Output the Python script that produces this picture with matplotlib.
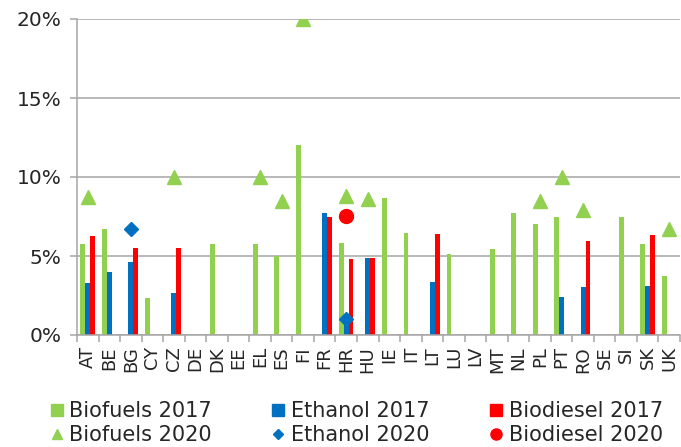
import numpy as np
import matplotlib
matplotlib.use("Agg")
import matplotlib.pyplot as plt
from matplotlib.lines import Line2D
from matplotlib.ticker import PercentFormatter

nan = np.nan

countries = ["AT", "BE", "BG", "CY", "CZ", "DE", "DK", "EE", "EL", "ES",
             "FI", "FR", "HR", "HU", "IE", "IT", "LT", "LU", "LV", "MT",
             "NL", "PL", "PT", "RO", "SE", "SI", "SK", "UK"]

# shares in %
biofuels_2017 = [5.76, 6.73, nan, 2.36, nan, nan, 5.76, nan, 5.76, 5.0,
                 12.0, nan, 5.84, nan, 8.67, 6.47, nan, 5.13, nan, 5.42,
                 7.70, 7.04, 7.45, nan, nan, 7.45, 5.76, 3.73]
ethanol_2017 = [3.31, 3.97, 4.62, nan, 2.68, nan, nan, nan, nan, nan,
                nan, 7.72, 0.9, 4.87, nan, nan, 3.33, nan, nan, nan,
                nan, nan, 2.43, 3.02, nan, nan, 3.10, nan]
biodiesel_2017 = [6.25, nan, 5.53, nan, 5.53, nan, nan, nan, nan, nan,
                  nan, 7.45, 4.79, 4.87, nan, nan, 6.41, nan, nan, nan,
                  nan, nan, nan, 5.93, nan, nan, 6.33, nan]
biofuels_2020 = [8.73, nan, nan, nan, 10.0, nan, nan, nan, 10.0, 8.5,
                 20.0, nan, 8.82, 8.63, nan, nan, nan, nan, nan, nan,
                 nan, 8.5, 10.0, 7.91, nan, nan, nan, 6.69]
ethanol_2020 = [nan, nan, 6.71, nan, nan, nan, nan, nan, nan, nan,
                nan, nan, 0.99, nan, nan, nan, nan, nan, nan, nan,
                nan, nan, nan, nan, nan, nan, nan, nan]
biodiesel_2020 = [nan, nan, nan, nan, nan, nan, nan, nan, nan, nan,
                  nan, nan, 7.53, nan, nan, nan, nan, nan, nan, nan,
                  nan, nan, nan, nan, nan, nan, nan, nan]

GREEN = "#92D050"
BLUE = "#0070C0"
RED = "#FF0000"
GRID = "#A6A6A6"
TEXT = "#262626"

plt.rcParams["font.family"] = ["DejaVu Sans"]

fig = plt.figure(figsize=(6.81, 4.47), dpi=100)
ax = fig.add_axes([77 / 681, 1 - 335 / 447, 603 / 681, 316 / 447])

x = np.arange(len(countries))
w = 0.225
ax.bar(x - w, biofuels_2017, w, color=GREEN, zorder=2)
ax.bar(x, ethanol_2017, w, color=BLUE, zorder=2)
ax.bar(x + w, biodiesel_2017, w, color=RED, zorder=2)

ax.plot(x, biofuels_2020, ls="none", marker="^", ms=10, color=GREEN, zorder=3)
ax.plot(x, ethanol_2020, ls="none", marker="D", ms=7.5, color=BLUE, zorder=3)
ax.plot(x, biodiesel_2020, ls="none", marker="o", ms=10, color=RED, zorder=3)

ax.set_xlim(-0.5, len(countries) - 0.5)
ax.set_ylim(0, 20)
ax.set_yticks([0, 5, 10, 15, 20])
ax.yaxis.set_major_formatter(PercentFormatter(decimals=0))
ax.grid(axis="y", color=GRID, lw=1.1, zorder=0)

ax.set_xticks(x)
ax.set_xticklabels(countries, rotation=90, fontsize=13, color=TEXT)
ax.set_xticks(np.arange(len(countries) + 1) - 0.5, minor=True)
ax.tick_params(axis="x", which="major", length=0, pad=8)
ax.tick_params(axis="x", which="minor", length=5, color=GRID, width=1.1)
ax.tick_params(axis="y", length=5, color=GRID, width=1.1, labelsize=14.5,
               labelcolor=TEXT, pad=6)

for s in ["top", "right"]:
    ax.spines[s].set_visible(False)
for s in ["left", "bottom"]:
    ax.spines[s].set_color(GRID)
    ax.spines[s].set_linewidth(1.1)

handles = [
    Line2D([], [], ls="none", marker="s", ms=8, color=GREEN),
    Line2D([], [], ls="none", marker="^", ms=7, color=GREEN),
    Line2D([], [], ls="none", marker="s", ms=8, color=BLUE),
    Line2D([], [], ls="none", marker="D", ms=5.5, color=BLUE),
    Line2D([], [], ls="none", marker="s", ms=8, color=RED),
    Line2D([], [], ls="none", marker="o", ms=8, color=RED),
]
labels = ["Biofuels 2017", "Biofuels 2020", "Ethanol 2017", "Ethanol 2020",
          "Biodiesel 2017", "Biodiesel 2020"]
fig.legend(handles, labels, ncol=3, loc="center left",
           bbox_to_anchor=(40 / 681, 1 - 423 / 447), frameon=False,
           fontsize=15, handlelength=0.6, handletextpad=0.3,
           columnspacing=2.9, labelspacing=0.2, borderpad=0,
           labelcolor=TEXT)

fig.savefig("out.png", dpi=100)
